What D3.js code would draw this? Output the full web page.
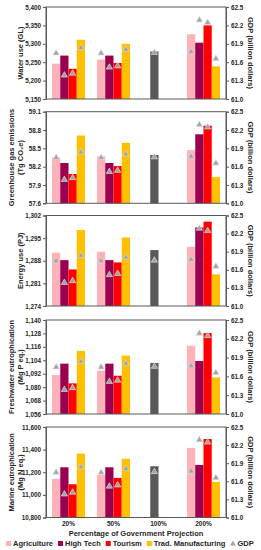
<!DOCTYPE html>
<html><head><meta charset="utf-8">
<script src="https://cdn.jsdelivr.net/npm/d3@7"></script>
<style>
html,body{margin:0;padding:0;background:#fff;}
svg{display:block;font-family:"Liberation Sans",Arial,sans-serif;font-weight:bold;}
</style></head><body>
<svg id="c" width="261" height="550"></svg>
<script>
const categories = ["20%", "50%", "100%", "200%"];
const seriesNames = ["Agriculture", "High Tech", "Tourism", "Trad. Manufacturing"];
const seriesColors = ["#ffb3b8", "#9b0050", "#ff0000", "#ffc000"];
const baseColor = "#595959";

// values per category: [Agriculture, High Tech, Tourism, Trad. Manufacturing]
const waterUse = [[5246, 5268, 5232, 5311], [5257, 5268, 5248, 5300], [null, 5279, null, null], [5326, 5303, 5350, 5239]];
const ghgEmissions = [[58.35, 58.26, 58.08, 58.71], [58.37, 58.26, 58.21, 58.59], [null, 58.39, null, null], [58.47, 58.73, 58.87, 58.03]];
const energyUse = [[1290.5, 1288.2, 1285.3, 1297.5], [1290.8, 1288.2, 1287.5, 1295.2], [null, 1291.3, null, null], [1292.3, 1298.3, 1300.1, 1283.8]];
const freshwaterEutro = [[1090.8, 1101, 1083.4, 1112.4], [1094.7, 1101, 1090.2, 1108.2], [null, 1101.6, null, null], [1117, 1103.4, 1128.3, 1088.7]];
const marineEutro = [[11141, 11244, 11094, 11365], [11176, 11244, 11150, 11320], [null, 11253, null, null], [11415, 11265, 11494, 11115]];
const gdp = [[61.76, 61.40, 61.43, 61.85], [61.76, 61.53, 61.55, 61.82], [null, 61.77, null, null], [61.78, 62.30, 62.26, 61.67]];

const waterTicks = [5150, 5200, 5250, 5300, 5350, 5400];
const ghgTicks = [57.6, 57.9, 58.2, 58.5, 58.8, 59.1];
const energyTicks = [1274, 1281, 1288, 1295, 1302];
const freshTicks = [1056, 1068, 1080, 1092, 1104, 1116, 1128, 1140];
const marineTicks = [10800, 11000, 11200, 11400, 11600];
const gdpTicks = [61.0, 61.3, 61.6, 61.9, 62.2, 62.5];

const xTitle = "Percentage of Government Projection";
const gdpTitle = "GDP (billion dollars)";

const panels = [
  {data: waterUse, ticks: waterTicks, fmt: d3.format(",.0f"), title: ["Water use (GL)"], top: 7, bottom: 99},
  {data: ghgEmissions, ticks: ghgTicks, fmt: d3.format(".1f"), title: ["Greenhouse gas emissions", "(Tg CO\u2082e)"], top: 111.7, bottom: 203.3},
  {data: energyUse, ticks: energyTicks, fmt: d3.format(",.0f"), title: ["Energy use (PJ)"], top: 215.5, bottom: 306},
  {data: freshwaterEutro, ticks: freshTicks, fmt: d3.format(",.0f"), title: ["Freshwater eutrophication", "(Mg P eq.)"], top: 320, bottom: 414},
  {data: marineEutro, ticks: marineTicks, fmt: d3.format(",.0f"), title: ["Marine eutrophication", "(Mg N eq.)"], top: 427, bottom: 517.5}
];

const svg = d3.select("#c");
const L = 46, R = 226;
const textColor = "#262626";
const axisColor = "#595959";

const x0 = d3.scaleBand().domain(categories).range([L, R]).paddingInner(0.2667).paddingOuter(0.1333);
const x1 = d3.scaleBand().domain(d3.range(seriesNames.length)).range([0, x0.bandwidth()]);

panels.forEach((p) => {
  const g = svg.append("g");
  const y = d3.scaleLinear().domain(d3.extent(p.ticks)).range([p.bottom, p.top]);
  const y2 = d3.scaleLinear().domain(d3.extent(gdpTicks)).range([p.bottom, p.top]);

  // bars
  p.data.forEach((vals, ci) => {
    vals.forEach((v, si) => {
      if (v == null) return;
      g.append("rect")
        .attr("x", x0(categories[ci]) + x1(si))
        .attr("width", x1.bandwidth())
        .attr("y", y(v))
        .attr("height", p.bottom - y(v))
        .attr("fill", categories[ci] === "100%" ? baseColor : seriesColors[si]);
    });
  });

  // GDP markers
  gdp.forEach((vals, ci) => {
    vals.forEach((v, si) => {
      if (v == null) return;
      g.append("path")
        .attr("d", d3.symbol(d3.symbolTriangle, 17)())
        .attr("transform", `translate(${x0(categories[ci]) + x1(si) + x1.bandwidth() / 2},${y2(v) + 0.8})`)
        .attr("fill", "#a3a3a3")
        .attr("stroke", "#d9d9d9")
        .attr("stroke-width", 0.7);
    });
  });

  // frame
  g.append("rect").attr("x", L).attr("y", p.top).attr("width", R - L).attr("height", p.bottom - p.top)
    .attr("fill", "none").attr("stroke", axisColor).attr("stroke-width", 1);

  // left axis
  const la = g.append("g").attr("transform", `translate(${L},0)`)
    .call(d3.axisLeft(y).tickValues(p.ticks).tickFormat(p.fmt).tickSize(3).tickPadding(2));
  la.select(".domain").attr("stroke", axisColor);
  la.selectAll(".tick line").attr("stroke", axisColor);
  la.selectAll("text").attr("font-size", 6.3).attr("font-family", "Liberation Sans, Arial, sans-serif").attr("font-weight", "bold").attr("fill", textColor);

  // right axis
  const ra = g.append("g").attr("transform", `translate(${R},0)`)
    .call(d3.axisRight(y2).tickValues(gdpTicks).tickFormat(d3.format(".1f")).tickSize(3).tickPadding(2));
  ra.select(".domain").attr("stroke", axisColor);
  ra.selectAll(".tick line").attr("stroke", axisColor);
  ra.selectAll("text").attr("font-size", 6.3).attr("font-family", "Liberation Sans, Arial, sans-serif").attr("font-weight", "bold").attr("fill", textColor);

  // left title
  const cy = (p.top + p.bottom) / 2;
  const lx = p.title.length === 1 ? 20 : 11;
  const lt = g.append("text").attr("transform", `translate(${lx},${cy}) rotate(-90)`)
    .attr("text-anchor", "middle").attr("font-size", 7.5).attr("fill", textColor);
  p.title.forEach((t, i) => {
    lt.append("tspan").attr("x", 0).attr("dy", i === 0 ? "0.35em" : "1.2em").text(t);
  });

  // right title
  g.append("text").attr("transform", `translate(${251},${cy}) rotate(90)`)
    .attr("text-anchor", "middle").attr("dy", "0.35em").attr("font-size", 7.5).attr("fill", textColor).text(gdpTitle);
});

// category labels
svg.append("g").selectAll("text").data(categories).join("text")
  .attr("x", d => x0(d) + x0.bandwidth() / 2).attr("y", 526)
  .attr("text-anchor", "middle").attr("font-size", 6.5).attr("fill", textColor).text(d => d);

svg.append("text").attr("x", (L + R) / 2).attr("y", 536).attr("text-anchor", "middle")
  .attr("font-size", 7.5).attr("fill", textColor).text(xTitle);

// legend
const legend = svg.append("g").attr("transform", "translate(0,546)");
const legendItems = seriesNames.map((n, i) => ({name: n, color: seriesColors[i], type: "rect"}));
legendItems.push({name: "GDP", color: "#a3a3a3", type: "tri"});
let lxPos = 6;
legendItems.forEach(it => {
  if (it.type === "rect") {
    legend.append("rect").attr("x", lxPos).attr("y", -5).attr("width", 5).attr("height", 5).attr("fill", it.color);
  } else {
    legend.append("path").attr("d", d3.symbol(d3.symbolTriangle, 14)())
      .attr("transform", `translate(${lxPos + 2.5},-2.2)`).attr("fill", it.color);
  }
  const t = legend.append("text").attr("x", lxPos + 7).attr("y", 0).attr("font-size", 7.5).attr("fill", textColor).text(it.name);
  lxPos += 7 + t.node().getComputedTextLength() + 5;
});
</script>
</body></html>
